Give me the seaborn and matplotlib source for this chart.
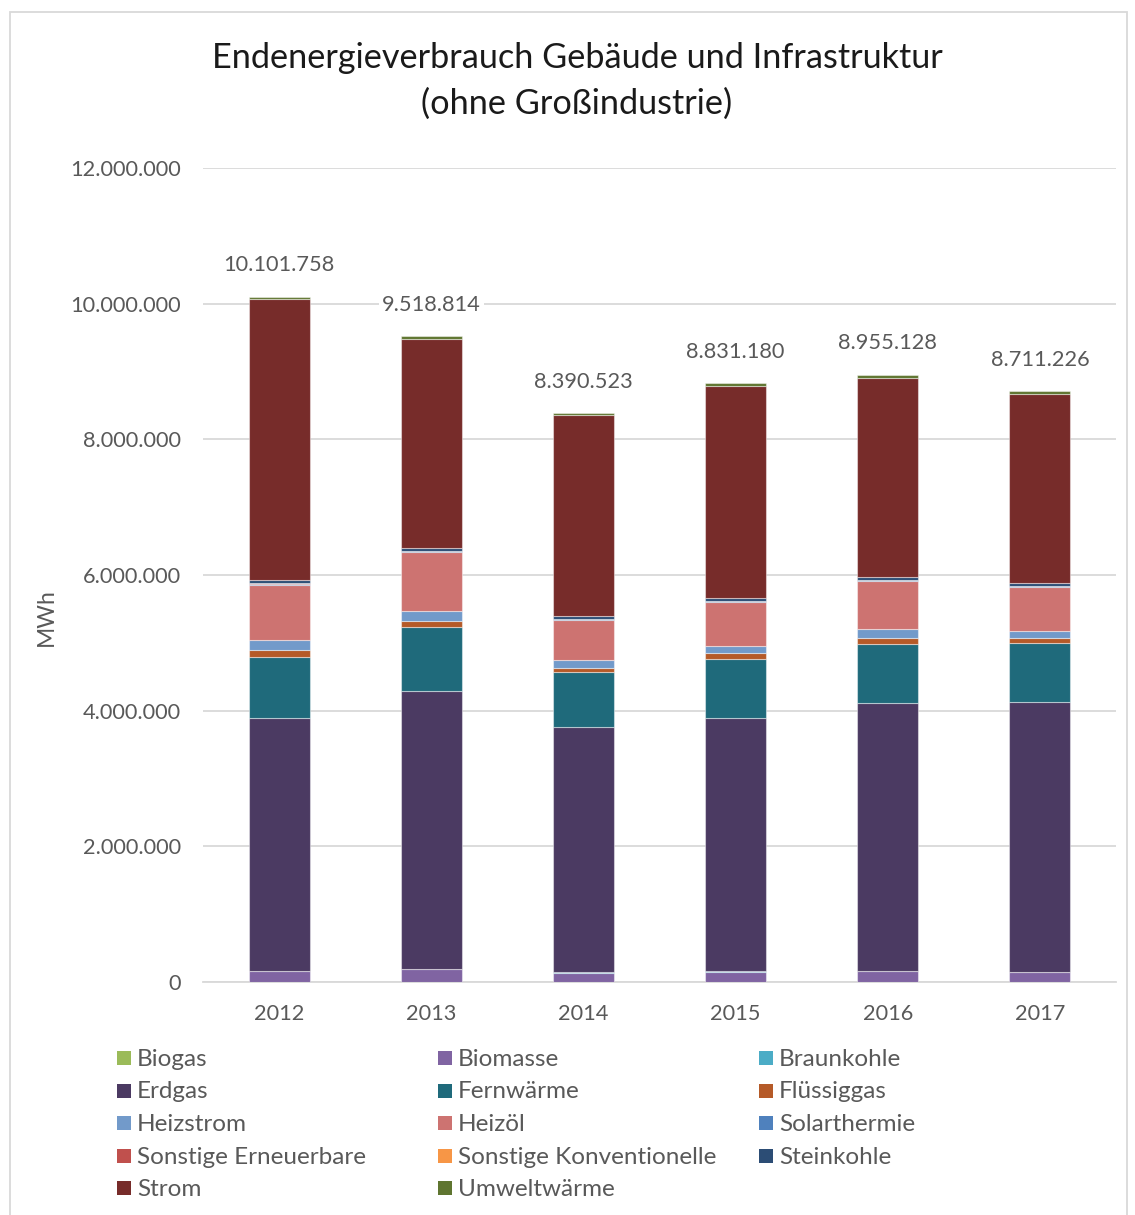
import numpy as np
import pandas as pd
import matplotlib
matplotlib.use("Agg")
import matplotlib.pyplot as plt
import seaborn as sns
from matplotlib.patches import Rectangle

# Daten (MWh), von unten nach oben gestapelt
jahre = ["2012", "2013", "2014", "2015", "2016", "2017"]
biogas = [5000, 5000, 4000, 4000, 4000, 4000]
biomasse = [160000, 180000, 130000, 150000, 160000, 140000]
braunkohle = [3000, 2000, 8000, 3000, 3000, 8000]
erdgas = [3730000, 4100000, 3620000, 3740000, 3950000, 3970000]
fernwaerme = [900000, 940000, 810000, 870000, 870000, 870000]
fluessiggas = [90000, 100000, 60000, 80000, 90000, 80000]
heizstrom = [150000, 140000, 110000, 100000, 120000, 100000]
heizoel = [810000, 870000, 590000, 650000, 710000, 650000]
solarthermie = [25000, 20000, 18000, 18000, 15000, 15000]
sonst_erneuerbar = [2000, 2000, 2000, 2000, 2000, 2000]
sonst_konventionell = [2000, 2000, 2000, 2000, 2000, 2000]
steinkohle = [45000, 40000, 40000, 45000, 50000, 45000]
strom = [4140000, 3078000, 2961000, 3122000, 2934000, 2775000]
umweltwaerme = [40000, 40000, 35000, 45000, 45000, 50000]
summen = [10101758, 9518814, 8390523, 8831180, 8955128, 8711226]

kategorien = ["Biogas", "Biomasse", "Braunkohle", "Erdgas", "Fernwärme", "Flüssiggas",
              "Heizstrom", "Heizöl", "Solarthermie", "Sonstige Erneuerbare",
              "Sonstige Konventionelle", "Steinkohle", "Strom", "Umweltwärme"]
werte = [biogas, biomasse, braunkohle, erdgas, fernwaerme, fluessiggas, heizstrom,
         heizoel, solarthermie, sonst_erneuerbar, sonst_konventionell, steinkohle,
         strom, umweltwaerme]
farben = ["#9BBB59", "#8064A2", "#4BACC6", "#4B3A62", "#1F6A7B", "#B55A28",
          "#729ACA", "#CD7371", "#4F81BD", "#C0504D", "#F79646", "#2C4D75",
          "#772C2A", "#5F7530"]

df = pd.DataFrame({"Jahr": jahre})
for k, w in zip(kategorien, werte):
    df[k] = w

sns.set_theme(style="white")
plt.rcParams["font.family"] = ["Lato", "DejaVu Sans"]
grau = "#595959"

fig = plt.figure(figsize=(11.35, 12.15), dpi=100)
ax = fig.add_axes([203 / 1135, 1 - 982 / 1215, 913 / 1135, 814 / 1215])

# Gestapelte Balken
unten = np.zeros(len(jahre))
for k, farbe in zip(kategorien, farben):
    sns.barplot(data=df, x="Jahr", y=k, bottom=unten, color=farbe, width=0.4,
                saturation=1, errorbar=None, edgecolor=(1, 1, 1, 0.45),
                linewidth=0.8, ax=ax, zorder=3)
    unten = unten + df[k].values

# Summen über den Balken
for i, s in enumerate(summen):
    ax.annotate(f"{s:,}".replace(",", "."), xy=(i, unten[i]), xytext=(0, 22.5),
                textcoords="offset points", ha="center", va="center",
                fontsize=15.7, color=grau, zorder=4,
                bbox=dict(boxstyle="square,pad=0.15", fc="white", ec="none"))

ax.set_ylim(0, 12000000)
ax.set_yticks(range(0, 12000001, 2000000))
ax.yaxis.set_major_formatter(matplotlib.ticker.FuncFormatter(
    lambda v, p: f"{int(v):,}".replace(",", ".")))
ax.grid(axis="y", color="#D9D9D9", linewidth=1.3, zorder=0)
ax.set_axisbelow(True)
for sp in ["top", "right", "left"]:
    ax.spines[sp].set_visible(False)
ax.spines["bottom"].set_color("#D9D9D9")
ax.spines["bottom"].set_linewidth(1.3)
ax.tick_params(axis="both", length=0, labelsize=15.7, labelcolor=grau)
ax.tick_params(axis="y", pad=16)
ax.tick_params(axis="x", pad=15.5)
ax.set_xlabel("")
ax.set_ylabel("MWh", fontsize=16.5, color=grau)
ax.yaxis.set_label_coords(-0.16, 0.448)
ax.set_xlim(-0.5, len(jahre) - 0.5)

fig.text(577 / 1135, 1 - 81 / 1215, "Endenergieverbrauch Gebäude und Infrastruktur\n(ohne Großindustrie)",
         ha="center", va="center", fontsize=24.7, color="#1a1a1a", linespacing=1.5)

# Legende (zeilenweise, 3 Spalten)
spalten_x = [117, 438, 759]
zeilen_y = [1058, 1090.5, 1123, 1155.5, 1188]
for n, (k, farbe) in enumerate(zip(kategorien, farben)):
    zx = spalten_x[n % 3]
    zy = zeilen_y[n // 3]
    fig.patches.append(Rectangle((zx / 1135, 1 - (zy + 7) / 1215), 14 / 1135, 14 / 1215,
                                 transform=fig.transFigure, facecolor=farbe,
                                 edgecolor="none"))
    fig.text((zx + 20) / 1135, 1 - (zy + 1.5) / 1215, k, ha="left", va="center",
             fontsize=17.5, color=grau)

# Rahmen
fig.patches.append(Rectangle((10 / 1135, -0.01), 1117 / 1135, 1 - 12 / 1215 + 0.01,
                             transform=fig.transFigure, facecolor="none",
                             edgecolor="#D9D9D9", linewidth=1.3))

fig.savefig("out.png", dpi=100)
